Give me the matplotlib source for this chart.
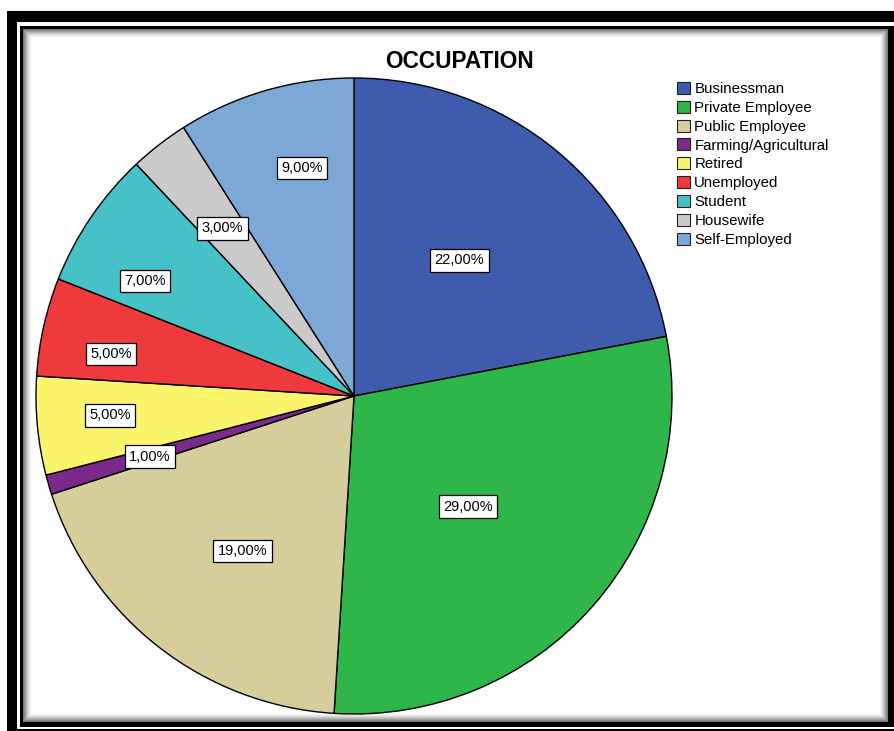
import numpy as np
import matplotlib
matplotlib.use("Agg")
import matplotlib.pyplot as plt
from matplotlib.patches import Rectangle, Patch

# data
occupations = ['Businessman', 'Private Employee', 'Public Employee', 'Farming/Agricultural',
               'Retired', 'Unemployed', 'Student', 'Housewife', 'Self-Employed']
percents = [22, 29, 19, 1, 5, 5, 7, 3, 9]
colors = ['#3E5BAE', '#2EB64A', '#D5CE9B', '#7A2A8A', '#FBF56C',
          '#EE3A3C', '#46C1C7', '#CACACA', '#7BA8D6']

# where SPSS put each value label: fraction of radius, and degrees off the wedge middle
label_r = [0.54, 0.50, 0.60, 0.67, 0.77, 0.775, 0.75, 0.67, 0.735]
label_dtheta = [1.7, -2.8, 2.1, 0.4, -0.9, 2.8, 5.4, 0.3, -3.4]

plt.rcParams['font.family'] = ['Liberation Sans', 'DejaVu Sans']

W, H = 894, 731
fig = plt.figure(figsize=(W / 100, H / 100), dpi=100)
fig.patch.set_facecolor('white')


def rect(x0, y0, x1, y1, color, z):
    # pixel box (top-left origin) -> figure fraction
    fig.patches.append(Rectangle((x0 / W, 1 - y1 / H), (x1 - x0) / W, (y1 - y0) / H,
                                 transform=fig.transFigure, facecolor=color,
                                 edgecolor='none', zorder=z))


# the double black frame round the chart
rect(7, 11, 910, 745, 'black', 0)
rect(17, 22, 910, 729, 'white', 1)
rect(20, 26, 910, 727, 'black', 2)
rect(23, 29, 888, 722, '#7a7a7a', 3)
shades = ['#8c8c8c', '#a0a0a0', '#b4b4b4', '#c8c8c8', '#dadada', '#e9e9e9', '#f4f4f4', '#fdfdfd']
for k, c in enumerate(shades):
    rect(24 + k, 30 + k, 887 - k, 721 - k, c, 4 + k)

# pie axes: centre (354, 396) px, radius 318 px
cx, cy, r = 354, 396, 318
lim = 1.02
ax = fig.add_axes([(cx - r * lim) / W, 1 - (cy + r * lim) / H, 2 * r * lim / W, 2 * r * lim / H])
ax.set_zorder(20)
wedges, _ = ax.pie(percents, colors=colors, startangle=90, counterclock=False,
                   wedgeprops=dict(edgecolor='black', linewidth=1.0))
ax.set_xlim(-lim, lim)
ax.set_ylim(-lim, lim)
ax.set_aspect('equal')
ax.axis('off')

for w, p, lr, dt in zip(wedges, percents, label_r, label_dtheta):
    mid = np.deg2rad((w.theta1 + w.theta2) / 2 + dt)
    ax.text(lr * np.cos(mid), lr * np.sin(mid), f'{p:.2f}%'.replace('.', ','),
            ha='center', va='center', fontsize=10.5,
            bbox=dict(boxstyle='square,pad=0.3', facecolor='white', edgecolor='black', linewidth=0.9))

fig.text(459 / W, 1 - 62 / H, 'OCCUPATION', ha='center', va='center',
         fontsize=16.3, fontweight='bold', zorder=30)

handles = [Patch(facecolor=c, edgecolor='#222222', linewidth=0.8) for c in colors]
leg = fig.legend(handles, occupations, loc='upper left', bbox_to_anchor=(677 / W, 1 - 82 / H),
                 frameon=False, fontsize=10.8, handlelength=0.85, handleheight=0.85,
                 handletextpad=0.3, labelspacing=0.31, borderaxespad=0, borderpad=0)
leg.set_zorder(30)

fig.savefig('out.png', dpi=100)
